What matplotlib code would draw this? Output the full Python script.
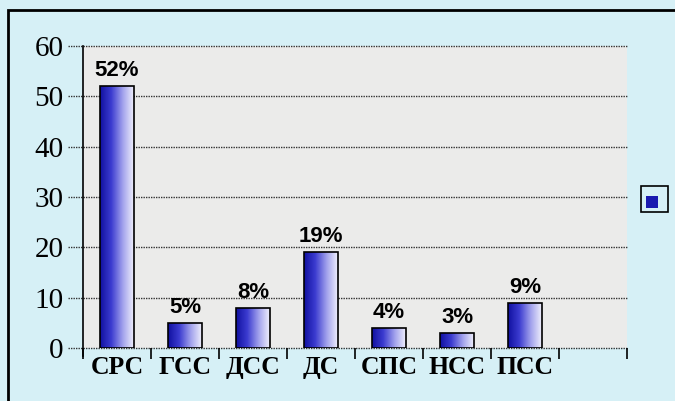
import numpy as np
import matplotlib
matplotlib.use("Agg")
import matplotlib.pyplot as plt
from matplotlib.colors import LinearSegmentedColormap
from matplotlib.patches import Rectangle

categories = ["СРС", "ГСС", "ДСС", "ДС", "СПС", "НСС", "ПСС"]
values = [52, 5, 8, 19, 4, 3, 9]
labels = ["52%", "5%", "8%", "19%", "4%", "3%", "9%"]
yticks = [0, 10, 20, 30, 40, 50, 60]

fig = plt.figure(figsize=(6.75, 4.01), dpi=100)
fig.patch.set_facecolor("#d6f0f6")
# frame around the chart
fig.patches.append(Rectangle((8/675, -0.05), 1.2, 1 - 10/401 + 0.05,
                             transform=fig.transFigure, fill=False,
                             edgecolor="black", linewidth=2))

ax = fig.add_axes([83/675, 1 - 348/401, 544/675, 302/401])
ax.set_facecolor("#ebebea")
ax.set_xlim(-0.5, 7.5)
ax.set_ylim(0, 60)

for s in ["top", "right"]:
    ax.spines[s].set_visible(False)
ax.spines["bottom"].set_visible(False)
ax.spines["left"].set_linewidth(1.2)
ax.spines["left"].set_bounds(-1.5, 60)

# dotted gridlines, extending left of the axis
for v in yticks:
    ax.plot([-0.72, 7.5], [v, v], color="#333333", linestyle=(0, (1, 0.8)),
            linewidth=1.0, clip_on=False, zorder=1)

cmap = LinearSegmentedColormap.from_list("bar", ["#1010a0", "#3c3cd0", "#a0a0ec", "#f0f0fc"])
grad = np.linspace(0, 1, 256).reshape(1, -1)
x = np.arange(len(categories))
bars = ax.bar(x, values, width=0.5, facecolor="none", edgecolor="black",
              linewidth=1.2, zorder=3)
for b in bars:
    im = ax.imshow(grad, cmap=cmap, aspect="auto", zorder=2,
                   extent=[b.get_x(), b.get_x() + b.get_width(), 0, b.get_height()])
    im.set_clip_path(b)
for xi, v, lab in zip(x, values, labels):
    ax.text(xi, v + 1.0, lab, ha="center", va="bottom", fontsize=16,
            fontweight="bold", family="Liberation Sans")

ax.set_xticks(np.arange(-0.5, 8.0, 1.0))
ax.set_xticklabels([])
ax.tick_params(axis="x", direction="out", length=8, width=1.2)
ax.set_xticks(x, minor=True)
ax.set_xticklabels(categories, minor=True, fontsize=18.5, fontweight="bold",
                   family="Liberation Serif")
ax.tick_params(axis="x", which="minor", length=0, pad=6)

ax.set_yticks(yticks)
ax.set_yticklabels([str(v) for v in yticks], fontsize=21, family="Liberation Serif")
ax.tick_params(axis="y", length=0, pad=14)

# legend box
fig.patches.append(Rectangle((641/675, 1 - 212/401), 27/675, 26/401,
                             transform=fig.transFigure, facecolor="none",
                             edgecolor="black", linewidth=1.2))
fig.patches.append(Rectangle((646/675, 1 - 208/401), 12/675, 12/401,
                             transform=fig.transFigure, facecolor="#1a1ab0",
                             edgecolor="none"))

fig.savefig("out.png", dpi=100, facecolor=fig.get_facecolor())
